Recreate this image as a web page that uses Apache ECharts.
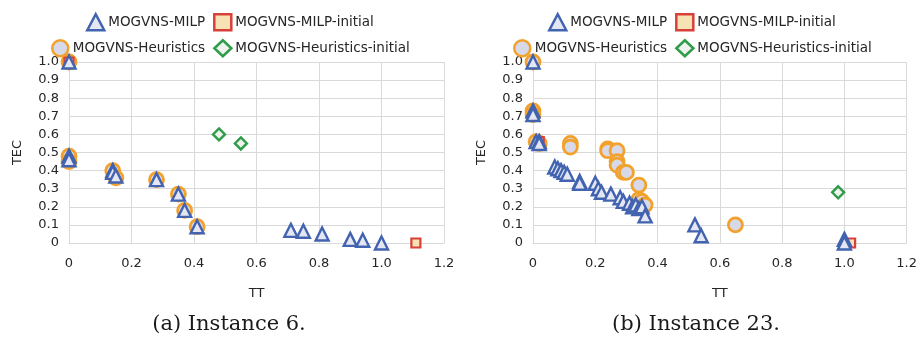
<!DOCTYPE html>
<html>
<head>
<meta charset="utf-8">
<script src="https://cdn.jsdelivr.net/npm/echarts@6/dist/echarts.min.js"></script>
<style>
  html, body { margin: 0; padding: 0; background: #ffffff; }
  #chart { width: 920px; height: 347px; }
</style>
</head>
<body>
<div id="chart"></div>
<script>
// Axis ticks shared by both panels
const ttTicks = [0, 0.2, 0.4, 0.6, 0.8, 1.0, 1.2];
const tecTicks = [0, 0.1, 0.2, 0.3, 0.4, 0.5, 0.6, 0.7, 0.8, 0.9, 1.0];

const seriesNames = ['MOGVNS-MILP', 'MOGVNS-MILP-initial', 'MOGVNS-Heuristics', 'MOGVNS-Heuristics-initial'];
const captions = ['(a) Instance 6.', '(b) Instance 23.'];

// Instance 6: [TT, TEC]
const inst6Milp = [[0, 1.0], [0, 0.48], [0, 0.46], [0.14, 0.40], [0.14, 0.39], [0.15, 0.37], [0.28, 0.35], [0.35, 0.27], [0.37, 0.18], [0.41, 0.09], [0.71, 0.07], [0.75, 0.065], [0.81, 0.05], [0.90, 0.02], [0.94, 0.015], [1.0, 0.0]];
const inst6MilpInit = [[0, 1.0], [1.11, 0.0]];
const inst6Heur = [[0, 1.0], [0, 0.48], [0, 0.45], [0.14, 0.40], [0.15, 0.36], [0.28, 0.35], [0.35, 0.27], [0.37, 0.18], [0.41, 0.09]];
const inst6HeurInit = [[0.48, 0.60], [0.55, 0.55]];

// Instance 23: [TT, TEC]
const inst23Milp = [[0, 1.0], [0, 0.73], [0, 0.71], [0.01, 0.56], [0.02, 0.56], [0.02, 0.55], [0.07, 0.42], [0.08, 0.41], [0.09, 0.40], [0.10, 0.39], [0.11, 0.38], [0.15, 0.34], [0.15, 0.33], [0.20, 0.33], [0.21, 0.30], [0.22, 0.28], [0.25, 0.27], [0.28, 0.25], [0.29, 0.23], [0.31, 0.22], [0.32, 0.20], [0.33, 0.21], [0.34, 0.19], [0.35, 0.20], [0.36, 0.15], [0.52, 0.10], [0.54, 0.04], [1.0, 0.02], [1.0, 0.0]];
const inst23MilpInit = [[0.02, 0.56], [1.02, 0.0]];
const inst23Heur = [[0, 1.0], [0, 0.73], [0, 0.71], [0.01, 0.56], [0.02, 0.55], [0.12, 0.55], [0.12, 0.53], [0.24, 0.52], [0.24, 0.51], [0.27, 0.51], [0.27, 0.45], [0.27, 0.43], [0.29, 0.39], [0.30, 0.39], [0.34, 0.32], [0.34, 0.24], [0.35, 0.23], [0.36, 0.21], [0.65, 0.10]];
const inst23HeurInit = [[0.98, 0.28]];

const panels = [
  { milp: inst6Milp, milpInit: inst6MilpInit, heur: inst6Heur, heurInit: inst6HeurInit },
  { milp: inst23Milp, milpInit: inst23MilpInit, heur: inst23Heur, heurInit: inst23HeurInit }
];

const FONT = 'DejaVu Sans';
const TXT = '#262626';
const GRID = '#d9d9d9';

const styles = {
  'MOGVNS-MILP': { symbol: 'triangle', size: 13, color: '#e4e6f3', border: '#4264b0', bw: 2.4, z: 4 },
  'MOGVNS-MILP-initial': { symbol: 'rect', size: 9, color: '#f6e2b4', border: '#d8403a', bw: 2.2, z: 3 },
  'MOGVNS-Heuristics': { symbol: 'circle', size: 14, color: '#d8d9e8', border: '#f2a22c', bw: 2.8, z: 2 },
  'MOGVNS-Heuristics-initial': { symbol: 'diamond', size: 12, color: '#eef3ee', border: '#2f9c4a', bw: 2.4, z: 5 }
};

const grids = [
  { left: 69, right: 476, top: 62, bottom: 104 },
  { left: 533, right: 12, top: 62, bottom: 104 }
];

const fmt = v => (v === 0 ? '0' : v.toFixed(1));

const xAxes = grids.map((g, i) => ({
  type: 'value', gridIndex: i, min: ttTicks[0], max: ttTicks[ttTicks.length - 1], interval: 0.2,
  name: 'TT', nameLocation: 'middle', nameGap: 44,
  nameTextStyle: { fontFamily: FONT, fontSize: 13, color: TXT },
  axisLine: { show: true, lineStyle: { color: GRID } },
  axisTick: { show: false },
  axisLabel: { formatter: fmt, fontFamily: FONT, fontSize: 13, color: TXT, margin: 14 },
  splitLine: { show: true, lineStyle: { color: GRID, width: 1 } }
}));

const yAxes = grids.map((g, i) => ({
  type: 'value', gridIndex: i, min: tecTicks[0], max: tecTicks[tecTicks.length - 1], interval: 0.1,
  name: 'TEC', nameLocation: 'middle', nameGap: 45, nameRotate: 90,
  nameTextStyle: { fontFamily: FONT, fontSize: 13, color: TXT },
  axisLine: { show: true, lineStyle: { color: GRID } },
  axisTick: { show: false },
  axisLabel: { formatter: fmt, fontFamily: FONT, fontSize: 13, color: TXT, margin: 10 },
  splitLine: { show: true, lineStyle: { color: GRID, width: 1 } }
}));

const series = [];
panels.forEach((p, i) => {
  const dataByName = {
    'MOGVNS-MILP': p.milp,
    'MOGVNS-MILP-initial': p.milpInit,
    'MOGVNS-Heuristics': p.heur,
    'MOGVNS-Heuristics-initial': p.heurInit
  };
  seriesNames.forEach(name => {
    const s = styles[name];
    series.push({
      type: 'scatter', name, xAxisIndex: i, yAxisIndex: i, z: s.z,
      symbol: s.symbol, symbolSize: s.size,
      itemStyle: { color: s.color, borderColor: s.border, borderWidth: s.bw, opacity: 1 },
      emphasis: { disabled: true },
      data: dataByName[name]
    });
  });
});

// Two legend rows per panel, centred over each half
const legendCentres = [230, 692];
const legends = [];
legendCentres.forEach(cx => {
  [[seriesNames[0], seriesNames[1]], [seriesNames[2], seriesNames[3]]].forEach((row, r) => {
    legends.push({
      data: row.map(n => ({
        name: n,
        icon: styles[n].symbol,
        itemStyle: { color: styles[n].color, borderColor: styles[n].border, borderWidth: 2.5 }
      })),
      left: cx - 180, top: r === 0 ? 8 : 34, width: 440,
      orient: 'horizontal',
      itemWidth: 17, itemHeight: 16, itemGap: 8,
      selectedMode: false,
      textStyle: { fontFamily: FONT, fontSize: 13.5, color: TXT, padding: [0, 0, 0, -1] }
    });
  });
});

const titles = captions.map((c, i) => ({
  text: c, left: [224, 691][i], top: 309, textAlign: 'center',
  textStyle: { fontFamily: 'DejaVu Serif', fontSize: 21, fontWeight: 'normal', color: '#1a1a1a' }
}));

const chart = echarts.init(document.getElementById('chart'), null, { renderer: 'canvas' });
chart.setOption({
  animation: false,
  backgroundColor: '#ffffff',
  title: titles,
  legend: legends,
  grid: grids,
  xAxis: xAxes,
  yAxis: yAxes,
  series
});

// Centre each legend row on its anchor once its width is known
const legendViews = [];
chart._componentsViews.forEach(v => { if (v.type === 'legend.plain') legendViews.push(v); });
const widths = legendViews.map(v => v.group.getBoundingRect().width);
chart.setOption({
  legend: legendCentres.flatMap(cx => [cx, cx]).map((cx, k) => ({ left: Math.round(cx - (widths[k] || 0) / 2) }))
});
</script>
</body>
</html>
